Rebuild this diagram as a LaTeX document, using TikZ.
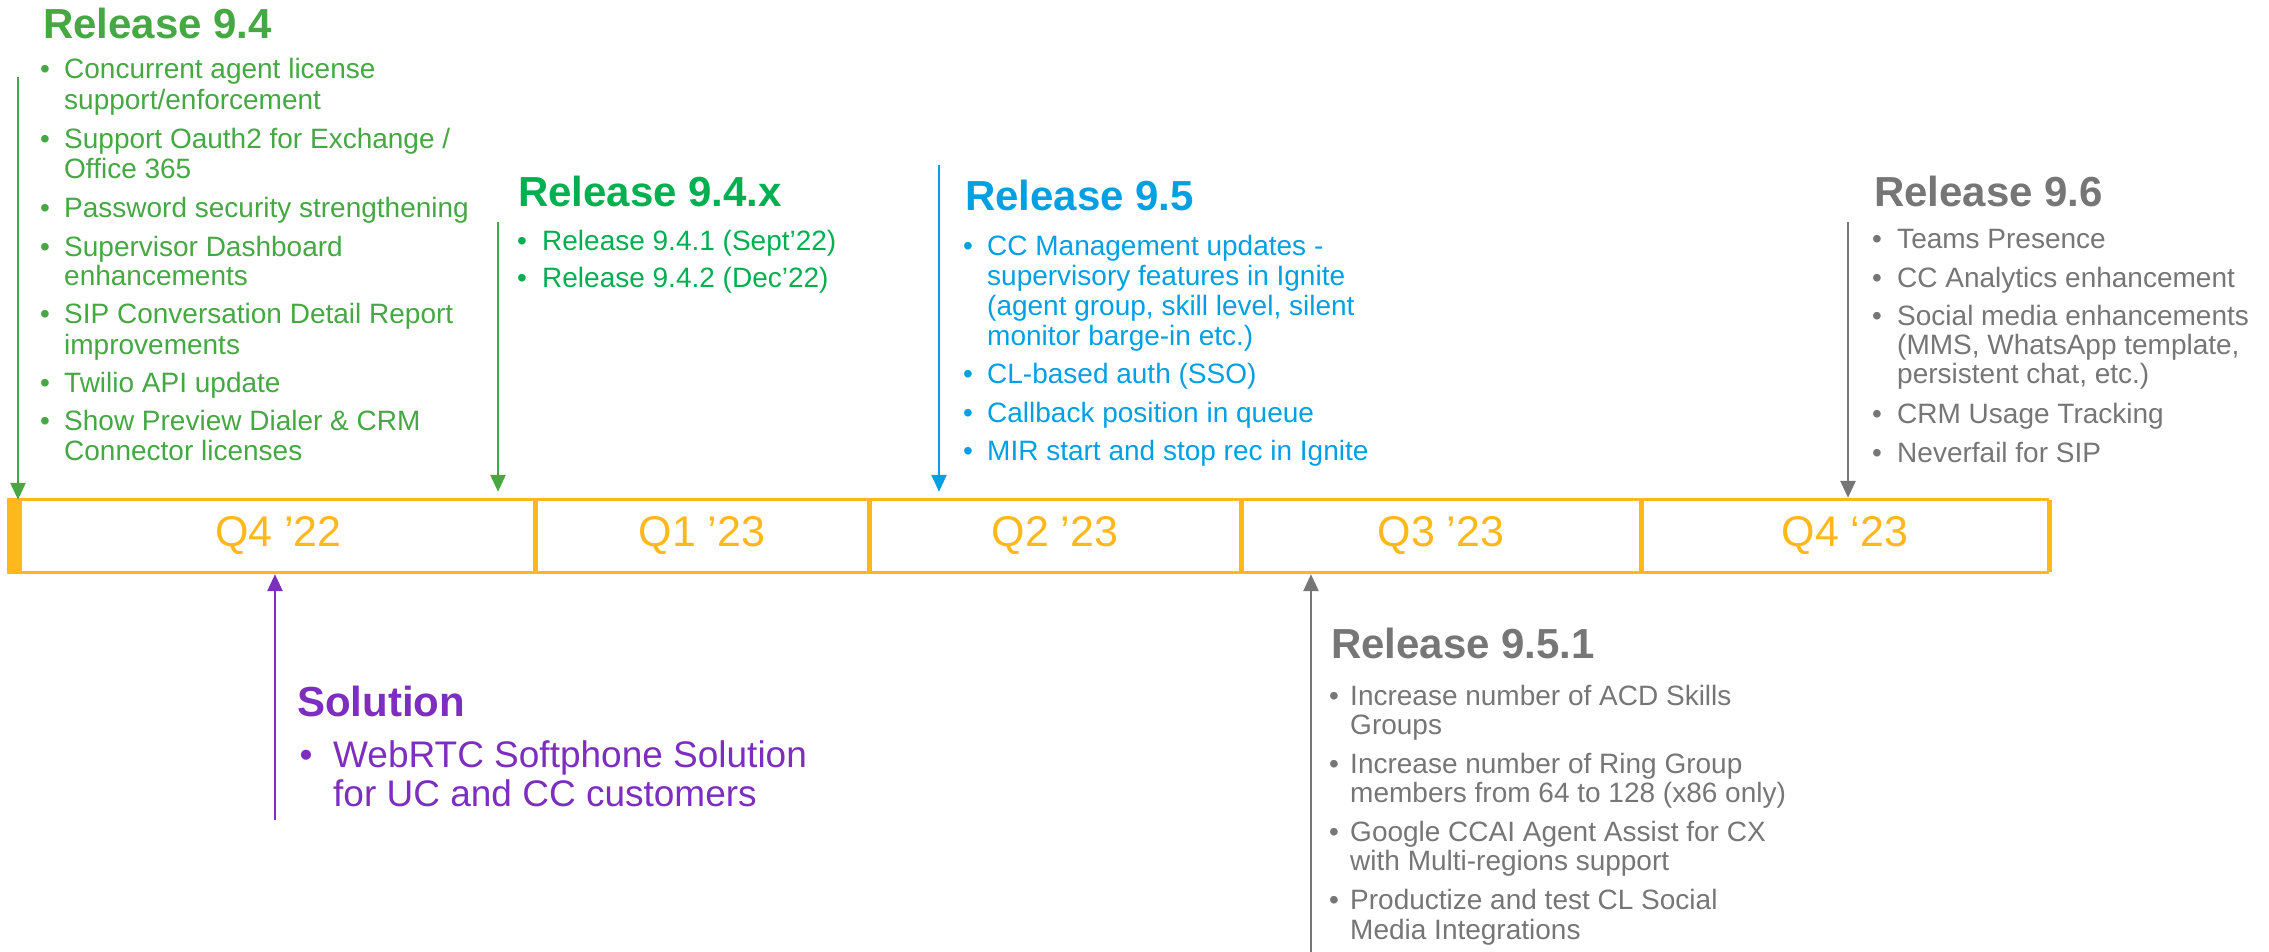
\documentclass[tikz,border=0pt]{standalone}
\usepackage{fontspec}
\setmainfont{Liberation Sans}
\usetikzlibrary{arrows.meta}

\definecolor{grA}{HTML}{45A843}
\definecolor{grB}{HTML}{00B050}
\definecolor{blu}{HTML}{00A0E3}
\definecolor{gry}{HTML}{767676}
\definecolor{pur}{HTML}{7D2EC0}
\definecolor{org}{HTML}{FFB81C}

\tikzset{
  reltitle/.style={anchor=base west, inner sep=0pt, font=\bfseries\fontsize{42}{44}\selectfont},
  itemline/.style={anchor=base west, inner sep=0pt, font=\fontsize{28}{30}\selectfont},
  itemdot/.style={anchor=base, inner sep=0pt, font=\fontsize{28}{30}\selectfont},
  bigitem/.style={font=\fontsize{37}{39}\selectfont},
  relarrow/.style={-{Triangle[length=17pt,width=15pt]}, line width=2.6pt},
  cell/.style={inner sep=0pt, minimum height=72pt, text=org, font=\fontsize{43}{45}\selectfont},
  barline/.style={draw=org, line width=3pt},
  bardiv/.style={draw=org, line width=5pt},
}

% bulleted first line: [extra style]{name}{colour}{bullet x}{text x}{baseline y}{text}
\newcommand\bul[7][]{%
  \node[itemdot,text=#3,#1] (#2-dot) at (#4,#6) {\textbullet};
  \node[itemline,text=#3,#1] (#2) at (#5,#6) {#7};
}
% continuation line: [extra style]{name}{colour}{text x}{baseline y}{text}
\newcommand\cont[6][]{%
  \node[itemline,text=#3,#1] (#2) at (#4,#5) {#6};
}

\begin{document}
\begin{tikzpicture}[x=1pt,y=-1pt]
\useasboundingbox (0,0) rectangle (2269,952);
\fill[white] (0,0) rectangle (2269,952);

% ---- quarter cells of the timeline bar
\node[cell, minimum width=513pt] (q1) at (278.5,536) {Q4 ’22};
\node[cell, minimum width=334pt] (q2) at (702,536) {Q1 ’23};
\node[cell, minimum width=372pt] (q3) at (1055,536) {Q2 ’23};
\node[cell, minimum width=400pt] (q4) at (1441,536) {Q3 ’23};
\node[cell, minimum width=408pt] (q5) at (1845,536) {Q4 ‘23};

\fill[org] ([xshift=-15pt]q1.north west) rectangle (q1.south west);
\draw[barline] ([xshift=-15pt]q1.north west) -- (q5.north east);
\draw[barline] ([xshift=-15pt]q1.south west) -- (q5.south east);
\foreach \c in {q1,q2,q3,q4,q5}
  \draw[bardiv] (\c.north east) -- (\c.south east);

% ---- Release 9.4
\node[reltitle, text=grA] (t94) at (43,39) {Release 9.4};
\bul{a1}{grA}{45}{64}{79}{Concurrent agent license}
\cont{a2}{grA}{64}{110}{support/enforcement}
\bul{a3}{grA}{45}{64}{149}{Support Oauth2 for Exchange /}
\cont{a4}{grA}{64}{179}{Office 365}
\bul{a5}{grA}{45}{64}{218}{Password security strengthening}
\bul{a6}{grA}{45}{64}{256}{Supervisor Dashboard}
\cont{a7}{grA}{64}{285}{enhancements}
\bul{a8}{grA}{45}{64}{323}{SIP Conversation Detail Report}
\cont{a9}{grA}{64}{354}{improvements}
\bul{a10}{grA}{45}{64}{392}{Twilio API update}
\bul{a11}{grA}{45}{64}{430}{Show Preview Dialer \& CRM}
\cont{a12}{grA}{64}{460}{Connector licenses}
\coordinate (s94) at (18,77);
\draw[relarrow, grA] (s94) -- (s94 |- q1.north);

% ---- Release 9.4.x
\node[reltitle, text=grB] (t94x) at (518,207) {Release 9.4.x};
\bul{b1}{grB}{522}{542}{250}{Release 9.4.1 (Sept’22)}
\bul{b2}{grB}{522}{542}{287}{Release 9.4.2 (Dec’22)}
\coordinate (s94x) at (498,222);
\draw[relarrow, grA, shorten >=8pt] (s94x) -- (s94x |- q1.north);

% ---- Release 9.5
\node[reltitle, text=blu] (t95) at (965,211) {Release 9.5};
\bul{c1}{blu}{968}{987}{255}{CC Management updates -}
\cont{c2}{blu}{987}{285}{supervisory features in Ignite}
\cont{c3}{blu}{987}{315}{(agent group, skill level, silent}
\cont{c4}{blu}{987}{345}{monitor barge-in etc.)}
\bul{c5}{blu}{968}{987}{383}{CL-based auth (SSO)}
\bul{c6}{blu}{968}{987}{422}{Callback position in queue}
\bul{c7}{blu}{968}{987}{460}{MIR start and stop rec in Ignite}
\coordinate (s95) at (939,165);
\draw[relarrow, blu, shorten >=8pt] (s95) -- (s95 |- q3.north);

% ---- Release 9.6
\node[reltitle, text=gry] (t96) at (1874,207) {Release 9.6};
\bul{d1}{gry}{1877}{1897}{248}{Teams Presence}
\bul{d2}{gry}{1877}{1897}{287}{CC Analytics enhancement}
\bul{d3}{gry}{1877}{1897}{325}{Social media enhancements}
\cont{d4}{gry}{1897}{354}{(MMS, WhatsApp template,}
\cont{d5}{gry}{1897}{383}{persistent chat, etc.)}
\bul{d6}{gry}{1877}{1897}{423}{CRM Usage Tracking}
\bul{d7}{gry}{1877}{1897}{462}{Neverfail for SIP}
\coordinate (s96) at (1848,222);
\draw[relarrow, gry, shorten >=2pt] (s96) -- (s96 |- q5.north);

% ---- Release 9.5.1
\node[reltitle, text=gry] (t951) at (1331,658) {Release 9.5.1};
\bul{e1}{gry}{1334}{1350}{705}{Increase number of ACD Skills}
\cont{e2}{gry}{1350}{734}{Groups}
\bul{e3}{gry}{1334}{1350}{773}{Increase number of Ring Group}
\cont{e4}{gry}{1350}{802}{members from 64 to 128 (x86 only)}
\bul{e5}{gry}{1334}{1350}{841}{Google CCAI Agent Assist for CX}
\cont{e6}{gry}{1350}{870}{with Multi-regions support}
\bul{e7}{gry}{1334}{1350}{909}{Productize and test CL Social}
\cont{e8}{gry}{1350}{939}{Media Integrations}
\coordinate (s951) at (1311,952);
\draw[relarrow, gry, shorten >=2pt] (s951) -- (s951 |- q4.south);

% ---- Solution
\node[reltitle, text=pur] (tsol) at (297,716) {Solution};
\bul[bigitem]{f1}{pur}{306}{333}{767}{WebRTC Softphone Solution}
\cont[bigitem]{f2}{pur}{333}{806}{for UC and CC customers}
\coordinate (ssol) at (275,820);
\draw[relarrow, pur, shorten >=2pt] (ssol) -- (ssol |- q1.south);
\end{tikzpicture}
\end{document}
